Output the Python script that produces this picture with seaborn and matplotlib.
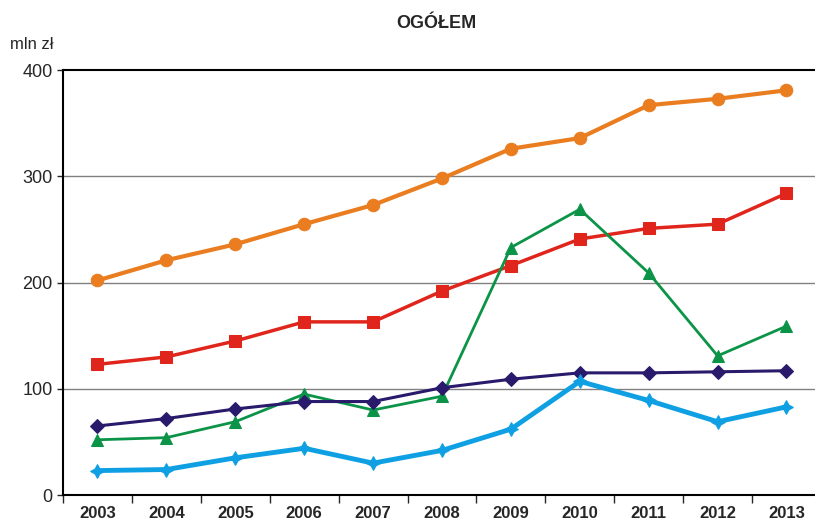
import seaborn as sns
import pandas as pd
import matplotlib.pyplot as plt
import matplotlib
import numpy as np

years = [2003, 2004, 2005, 2006, 2007, 2008, 2009, 2010, 2011, 2012, 2013]
orange_vals = [202, 221, 236, 255, 273, 298, 326, 336, 367, 373, 381]
red_vals = [123, 130, 145, 163, 163, 192, 216, 241, 251, 255, 284]
green_vals = [52, 54, 69, 95, 80, 93, 233, 269, 209, 131, 159]
purple_vals = [65, 72, 81, 88, 88, 101, 109, 115, 115, 116, 117]
blue_vals = [23, 24, 35, 44, 30, 42, 62, 107, 89, 69, 83]

sns.set_style("white")
matplotlib.rcParams["font.family"] = ["Liberation Sans", "DejaVu Sans"]

fig = plt.figure(figsize=(8.15, 5.24), dpi=100)
ax = fig.add_axes([0.0773, 0.0553, 0.93, 0.8109])

x = np.arange(len(years))
series = [
    (orange_vals, "#E97D1F", "o", 9, 3.0),
    (red_vals, "#E0261C", "s", 9, 2.5),
    (green_vals, "#0B9447", "^", 9, 2.0),
    (purple_vals, "#2A1A6C", "D", 7, 2.2),
    (blue_vals, "#0FA0E3", (4, 1, 0), 10, 3.5),
]
for vals, color, marker, ms, lw in series:
    df = pd.DataFrame({"x": x, "y": vals})
    sns.lineplot(
        data=df, x="x", y="y", ax=ax, color=color, marker=marker,
        markersize=ms, linewidth=lw, markeredgecolor=color, zorder=3,
    )

ax.set_xlim(-0.5, 10.5)
ax.set_ylim(0, 400)
ax.set_yticks([0, 100, 200, 300, 400])
ax.tick_params(axis="y", labelsize=13, length=4, direction="out", left=True, width=1)
for yv in [100, 200, 300]:
    ax.axhline(yv, color="#808080", linewidth=1, zorder=1)

ax.set_xticks(x)
ax.set_xticklabels([str(y) for y in years], fontweight="bold", fontsize=12)
ax.set_xticks(np.arange(-0.5, 10.6, 1), minor=True)
ax.tick_params(axis="x", which="major", length=0, pad=8)
ax.tick_params(axis="x", which="minor", length=6, direction="out", bottom=True, width=1)

ax.set_xlabel("")
ax.set_ylabel("")
for s in ["left", "bottom", "top"]:
    ax.spines[s].set_visible(True)
    ax.spines[s].set_color("black")
    ax.spines[s].set_linewidth(1.5)
ax.spines["right"].set_visible(False)

fig.text(0.535, 0.955, "OGÓŁEM", ha="center", va="center", fontsize=13, fontweight="bold")
fig.text(0.012, 0.915, "mln zł", ha="left", va="center", fontsize=12)

fig.savefig("out.png", dpi=100)
